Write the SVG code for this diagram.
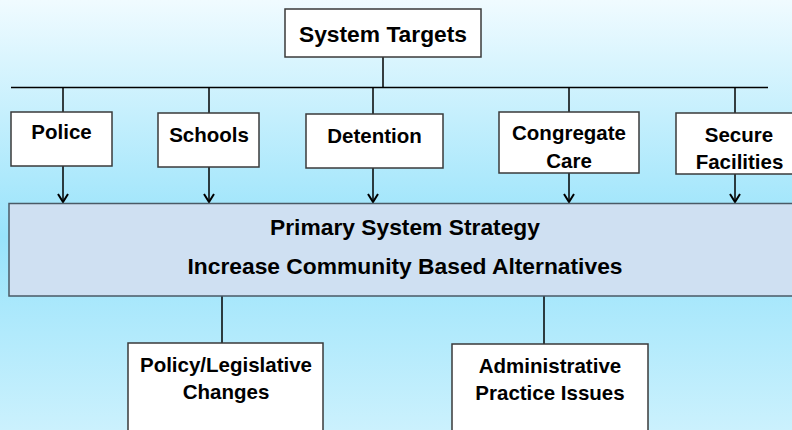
<svg xmlns="http://www.w3.org/2000/svg" width="792" height="430" viewBox="0 0 792 430">
<defs>
<linearGradient id="bg" x1="0" y1="0" x2="0" y2="1">
<stop offset="0" stop-color="#f0fbff"/>
<stop offset="0.55" stop-color="#98e3fb"/>
<stop offset="1" stop-color="#cbf1fd"/>
</linearGradient>
<marker id="arr" markerWidth="10" markerHeight="12" refX="9" refY="6" orient="auto" markerUnits="userSpaceOnUse" viewBox="0 0 10 12">
<path d="M1,1 L9,6 L1,11" fill="none" stroke="#000" stroke-width="2"/>
</marker>
<style>
.box{fill:#fff;stroke:#3a3a3a;stroke-width:1.5}
.strat{fill:#cfe0f2;stroke:#4a5a66;stroke-width:1.5}
.ln{stroke:#000;stroke-width:1.5;fill:none}
text{font-family:"Liberation Sans",Arial,sans-serif;font-weight:bold;fill:#000;text-anchor:middle}
.s{font-size:20.5px}
.l{font-size:22.8px}
</style>
</defs>
<rect x="0" y="0" width="792" height="430" fill="url(#bg)"/>
<g id="connectors">
<line class="ln" x1="383" y1="57" x2="383" y2="87.5"/>
<line class="ln" x1="11" y1="87.5" x2="768" y2="87.5"/>
<line class="ln" x1="63" y1="87.5" x2="63" y2="112"/>
<line class="ln" x1="209" y1="87.5" x2="209" y2="113"/>
<line class="ln" x1="373" y1="87.5" x2="373" y2="114"/>
<line class="ln" x1="569" y1="87.5" x2="569" y2="112"/>
<line class="ln" x1="735" y1="87.5" x2="735" y2="113"/>
<line class="ln" x1="63" y1="166" x2="63" y2="202" marker-end="url(#arr)"/>
<line class="ln" x1="209" y1="167" x2="209" y2="202" marker-end="url(#arr)"/>
<line class="ln" x1="373" y1="168" x2="373" y2="202" marker-end="url(#arr)"/>
<line class="ln" x1="569" y1="173" x2="569" y2="202" marker-end="url(#arr)"/>
<line class="ln" x1="735" y1="174" x2="735" y2="202" marker-end="url(#arr)"/>
<line class="ln" x1="222" y1="296" x2="222" y2="343"/>
<line class="ln" x1="544" y1="296" x2="544" y2="344"/>
</g>
<g id="system-targets">
<rect class="box" x="285" y="9" width="196" height="48"/>
<text class="l" x="383" y="42">System Targets</text>
</g>
<g id="police">
<rect class="box" x="11" y="112" width="101" height="54"/>
<text class="s" x="61.5" y="139">Police</text>
</g>
<g id="schools">
<rect class="box" x="158" y="113" width="101" height="54"/>
<text class="s" x="209" y="142">Schools</text>
</g>
<g id="detention">
<rect class="box" x="306" y="114" width="137" height="54"/>
<text class="s" x="374.5" y="143">Detention</text>
</g>
<g id="congregate-care">
<rect class="box" x="499" y="112" width="140" height="61"/>
<text class="s" x="569" y="140">Congregate</text>
<text class="s" x="569" y="168">Care</text>
</g>
<g id="secure-facilities">
<rect class="box" x="676" y="113" width="130" height="61"/>
<text class="s" x="739" y="142">Secure</text>
<text class="s" x="739.5" y="169">Facilities</text>
</g>
<g id="primary-strategy">
<rect class="strat" x="9" y="203.5" width="800" height="92.5"/>
<text class="l" x="405" y="235">Primary System Strategy</text>
<text class="l" x="405" y="274">Increase Community Based Alternatives</text>
</g>
<g id="policy-legislative">
<rect class="box" x="128" y="343" width="195" height="100"/>
<text class="s" x="226" y="372">Policy/Legislative</text>
<text class="s" x="226" y="399">Changes</text>
</g>
<g id="administrative-practice">
<rect class="box" x="452" y="344" width="196" height="100"/>
<text class="s" x="550" y="373">Administrative</text>
<text class="s" x="550" y="400">Practice Issues</text>
</g>
</svg>
